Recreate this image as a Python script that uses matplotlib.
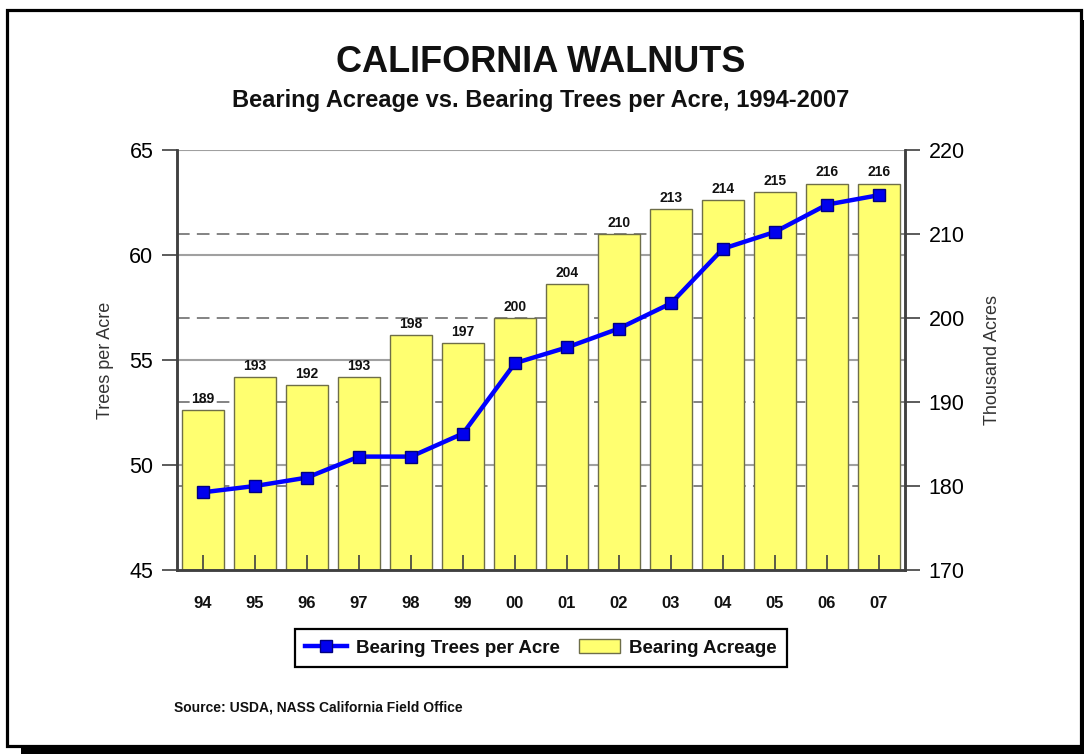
import matplotlib
matplotlib.use("Agg")
import matplotlib.pyplot as plt
from matplotlib.lines import Line2D
from matplotlib.patches import Patch, Rectangle

plt.rcParams['font.family'] = ['Liberation Sans', 'DejaVu Sans']

years = ["94", "95", "96", "97", "98", "99", "00", "01", "02", "03", "04", "05", "06", "07"]
trees_per_acre = [48.7, 49.0, 49.4, 50.4, 50.4, 51.5, 54.85, 55.6, 56.5, 57.7, 60.3, 61.1, 62.4, 62.85]
acreage = [189, 193, 192, 193, 198, 197, 200, 204, 210, 213, 214, 215, 216, 216]
left_ticks = [45, 50, 55, 60, 65]
right_ticks = [170, 180, 190, 200, 210, 220]

W, H = 1084, 754
fig = plt.figure(figsize=(W / 100, H / 100), dpi=100)
fig.patch.set_facecolor('white')

def px(x, y):
    return (x / W, 1 - y / H)

# frame and shadow
fig.patches.append(Rectangle(px(21, 754), (1084 - 21) / W, 8 / H, transform=fig.transFigure,
                             facecolor='black', edgecolor='none', zorder=0))
fig.patches.append(Rectangle(px(1080, 754), 4 / W, (754 - 20) / H, transform=fig.transFigure,
                             facecolor='black', edgecolor='none', zorder=0))
fig.patches.append(Rectangle(px(7, 746), (1081 - 7) / W, (746 - 10) / H, transform=fig.transFigure,
                             facecolor='none', edgecolor='black', lw=2.3, zorder=0))

left, right, top, bottom = 177, 905, 150, 570
ax = fig.add_axes([left / W, 1 - bottom / H, (right - left) / W, (bottom - top) / H])
ax2 = ax.twinx()
ax.set_zorder(2)
ax2.set_zorder(1)
ax.patch.set_visible(False)
ax2.patch.set_facecolor('white')

x = list(range(len(years)))
lmin, lmax = left_ticks[0], left_ticks[-1]
rmin, rmax = right_ticks[0], right_ticks[-1]

def to_right(v):
    return rmin + (v - lmin) * (rmax - rmin) / (lmax - lmin)

# gridlines (behind bars)
for v in left_ticks[1:]:
    ax2.axhline(to_right(v), color='#a0a0a0', lw=1.5, zorder=0.5)
for v in right_ticks[1:-1]:
    ax2.axhline(v, color='#7a7a7a', lw=1.3, ls=(0, (7, 4)), zorder=0.5)

bars = ax2.bar(x, [a - rmin for a in acreage], bottom=rmin, width=0.82, color='#ffff70',
               edgecolor='#6e6e48', lw=1.0, zorder=2)
for xi, a in zip(x, acreage):
    ax2.annotate(str(a), (xi, a), xytext=(0, 3), textcoords='offset points', ha='center',
                 va='bottom', fontsize=10, fontweight='bold', color='#111111', zorder=3)

ax.plot(x, trees_per_acre, color='#0000ff', lw=3.2, marker='s', markersize=8,
        markerfacecolor='#0000ee', markeredgecolor='#000080', markeredgewidth=1, zorder=5,
        clip_on=False)

ax.set_xlim(-0.5, len(years) - 0.5)
ax.set_ylim(lmin, lmax)
ax2.set_ylim(rmin, rmax)
ax.set_yticks(left_ticks)
ax2.set_yticks(right_ticks)
ax.set_xticks(x)
ax.set_xticklabels(years, fontsize=12, fontweight='bold', color='#111111')
ax.tick_params(axis='x', direction='in', length=11, width=1.2, color='#404040', pad=19)
ax.tick_params(axis='y', direction='out', length=11, width=1.2, color='#404040', pad=6,
               labelsize=15.5, labelcolor='#000000')
ax2.tick_params(axis='y', direction='out', length=11, width=1.2, color='#404040', pad=6,
                labelsize=15.5, labelcolor='#000000')
ax2.tick_params(axis='x', length=0)

for a in (ax, ax2):
    a.spines['top'].set_visible(False)
    for s in ('left', 'right', 'bottom'):
        a.spines[s].set_color('#404040')
        a.spines[s].set_linewidth(1.8)

ax.set_ylabel('Trees per Acre', fontsize=13, color='#333333')
ax2.set_ylabel('Thousand Acres', fontsize=13, color='#333333')
ax.yaxis.set_label_coords((114 - left) / (right - left), 0.5)
ax2.yaxis.set_label_coords((984 - left) / (right - left), 0.5)

fig.text(541 / W, 1 - 62 / H, 'CALIFORNIA WALNUTS', ha='center', va='center',
         fontsize=26, fontweight='bold', color='#111111')
fig.text(541 / W, 1 - 101 / H, 'Bearing Acreage vs. Bearing Trees per Acre, 1994-2007',
         ha='center', va='center', fontsize=17, fontweight='bold', color='#111111')
fig.text(174 / W, 1 - 708 / H, 'Source: USDA, NASS California Field Office', ha='left',
         va='center', fontsize=10, fontweight='bold', color='#111111')

handles = [Line2D([0], [0], color='#0000ff', lw=3.2, marker='s', markersize=8,
                  markerfacecolor='#0000ee', markeredgecolor='#000080'),
           Patch(facecolor='#ffff70', edgecolor='#6e6e48', lw=1.0)]
leg = fig.legend(handles, ['Bearing Trees per Acre', 'Bearing Acreage'], ncol=2,
                 loc='center', bbox_to_anchor=(541 / W, 1 - 648 / H),
                 prop={'size': 13.5, 'weight': 'bold'}, fancybox=False, framealpha=1,
                 edgecolor='black', handlelength=2.2, handletextpad=0.5, columnspacing=1.0,
                 borderpad=0.55)
leg.get_frame().set_linewidth(1.6)
for t in leg.get_texts():
    t.set_color('#111111')

fig.savefig('out.png', dpi=100, facecolor='white')
